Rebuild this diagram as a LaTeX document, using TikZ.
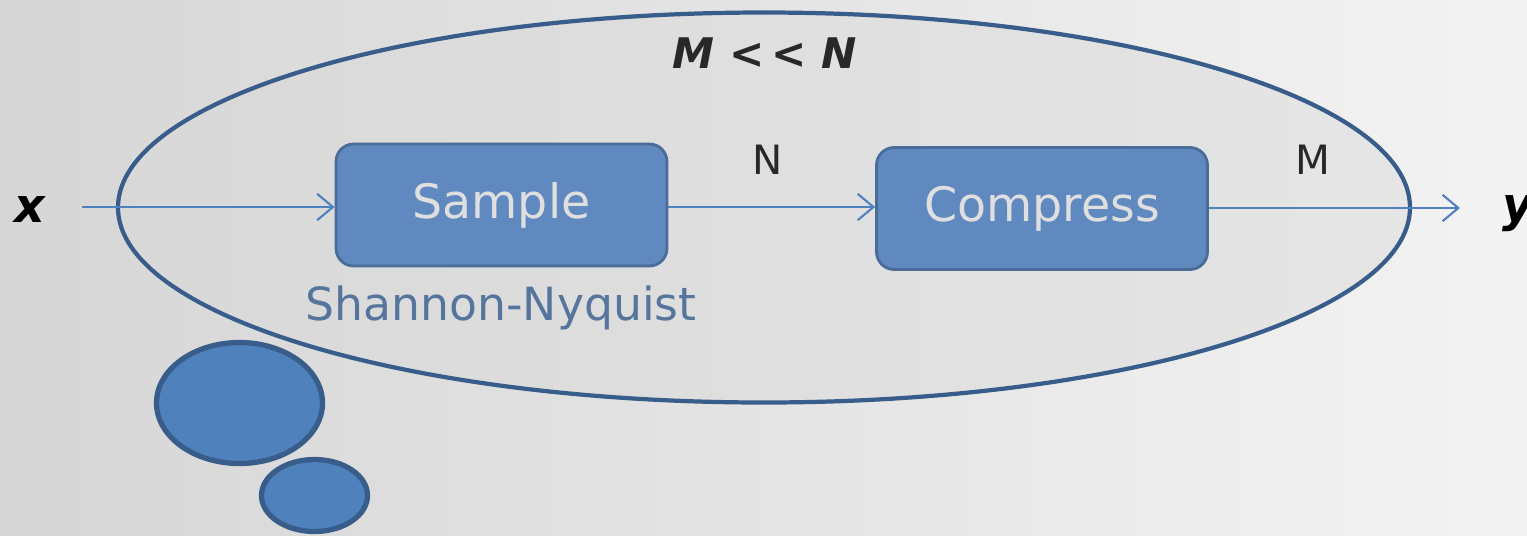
\documentclass[tikz,border=0pt]{standalone}
\usepackage{fontspec}
\setmainfont{DejaVu Sans}
\usetikzlibrary{arrows.meta,shapes.geometric}

\definecolor{bgleft}{RGB}{214,214,214}
\definecolor{bgright}{RGB}{243,243,243}
\definecolor{rim}{RGB}{56,93,138}
\definecolor{blockfill}{RGB}{96,137,192}
\definecolor{blockrim}{RGB}{74,108,152}
\definecolor{flow}{RGB}{79,129,189}
\definecolor{labelgray}{RGB}{40,40,40}

\tikzset{
    block/.style={draw=blockrim, line width=1.6pt, fill=blockfill, rounded corners=10pt,
        minimum width=6.62cm, minimum height=2.44cm, inner sep=0pt,
        text=gray!25, font=\fontsize{27}{30}\selectfont},
    flowarrow/.style={draw=flow, line width=1.3pt, -{Straight Barb[length=9pt,width=15pt,line width=1.2pt]}},
    bubble/.style={draw=rim, line width=3pt, fill=flow},
}

\begin{document}
\begin{tikzpicture}[x=0.02cm, y=-0.02cm]
    \shade[left color=bgleft, right color=bgright] (0,0) rectangle (1527,535);
    \useasboundingbox (0,0) rectangle (1527,535);

    % thought bubble
    \draw[bubble] (239.5,403) ellipse [x radius=83, y radius=60.5];
    \draw[bubble] (314.5,495.5) ellipse [x radius=53, y radius=36];

    % the cloud around the chain
    \draw[rim, line width=2.4pt, fill=gray!30, fill opacity=0.45] (764,207.5) ellipse [x radius=646, y radius=195];

    \node[block] (sample) at (501.5,205) {Sample};
    \node[block] (compress) at (1042,208.5) {Compress};

    \coordinate (in) at (82,207);
    \coordinate (out) at (1460,208);
    \node[font=\bfseries\itshape\fontsize{27}{30}\selectfont] (x) at (30,210) {x};
    \node[font=\bfseries\itshape\fontsize{27}{30}\selectfont, anchor=west] (y) at (1496,214) {y};

    \draw[flowarrow] (in) -- (sample.west |- in);
    \draw[flowarrow] (sample.east |- 0,207) -- (compress.west |- 0,207);
    \draw[flowarrow] (compress.east |- out) -- (out);

    \node[text=labelgray, font=\fontsize{23}{26}\selectfont] (nlabel) at (768,160) {N};
    \node[text=labelgray, font=\fontsize{23}{26}\selectfont] (mlabel) at (1313,160) {M};
    \node[text=labelgray, font=\bfseries\itshape\fontsize{24}{28}\selectfont] (ratio) at (765,53) {M {<}\,{<} N};
    \node[text=rim!85, font=\fontsize{26}{30}\selectfont] (sn) at (501,308) {Shannon-Nyquist};
\end{tikzpicture}
\end{document}
